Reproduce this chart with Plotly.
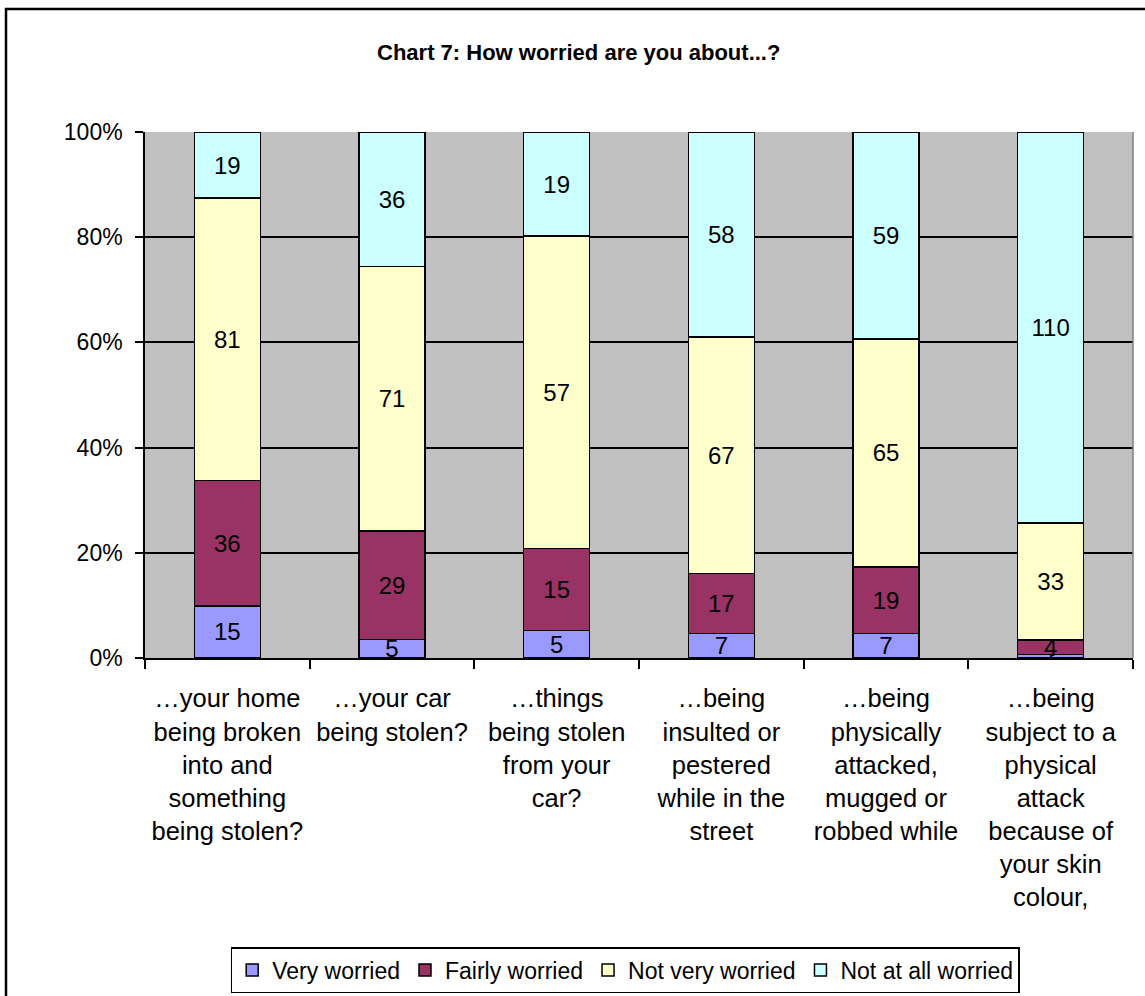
import plotly.graph_objects as go

categories = [
    "…your home<br>being broken<br>into and<br>something<br>being stolen?",
    "…your car<br>being stolen?",
    "…things<br>being stolen<br>from your<br>car?",
    "…being<br>insulted or<br>pestered<br>while in the<br>street",
    "…being<br>physically<br>attacked,<br>mugged or<br>robbed while",
    "…being<br>subject to a<br>physical<br>attack<br>because of<br>your skin<br>colour,",
]
series_names = ["Very worried", "Fairly worried", "Not very worried", "Not at all worried"]
very_worried = [15, 5, 5, 7, 7, 1]
fairly_worried = [36, 29, 15, 17, 19, 4]
not_very_worried = [81, 71, 57, 67, 65, 33]
not_at_all_worried = [19, 36, 19, 58, 59, 110]
y_tick_values = [0, 20, 40, 60, 80, 100]
y_tick_labels = ["0%", "20%", "40%", "60%", "80%", "100%"]

colors = ["#9999FF", "#993366", "#FFFFCC", "#CCFFFF"]
FONT = "Liberation Sans, Arial, sans-serif"

W, H = 1145, 996
L, R, T, B = 145, 12, 132, 338
PW, PH = W - L - R, H - T - B

fig = go.Figure()
for name, vals, col in zip(series_names,
                           [very_worried, fairly_worried, not_very_worried, not_at_all_worried],
                           colors):
    fig.add_trace(go.Bar(
        name=name, x=categories, y=vals,
        marker=dict(color=col, line=dict(color="black", width=1.5)),
        text=[str(v) for v in vals],
        textposition="inside", insidetextanchor="middle", textangle=0,
        insidetextfont=dict(color="black", size=24, family=FONT),
        hoverinfo="skip",
    ))

fig.update_layout(
    width=W, height=H,
    barmode="stack", barnorm="percent", bargap=0.6,
    uniformtext=dict(minsize=24, mode="show"),
    plot_bgcolor="#C0C0C0", paper_bgcolor="white",
    margin=dict(l=L, r=R, t=T, b=B),
    font=dict(family=FONT, size=23, color="black"),
    title=dict(text="<b>Chart 7: How worried are you about...?</b>",
               font=dict(size=22, family=FONT, color="black"),
               x=0.439, xref="paper", xanchor="center",
               y=1 - 52 / H, yref="container", yanchor="middle"),
    showlegend=True,
    legend=dict(orientation="h", x=0.486, xanchor="center",
                y=(H - 993) / H, yref="container", yanchor="bottom",
                bordercolor="black", borderwidth=1.5, bgcolor="white",
                font=dict(size=23, family=FONT), traceorder="normal",
                itemwidth=30),
    xaxis=dict(type="category", tickson="boundaries", ticks="outside", ticklen=9,
               tickcolor="black", tickwidth=1.5, showline=True, linecolor="black",
               linewidth=1.5, showgrid=False, tickfont=dict(size=25.5, family=FONT),
               ticklabelstandoff=17, automargin=False, fixedrange=True),
    yaxis=dict(range=[0, 100], tickmode="array", tickvals=y_tick_values,
               ticktext=y_tick_labels, ticks="outside",
               ticklen=8, tickcolor="black", tickwidth=1.5, showline=True,
               linecolor="black", linewidth=1.5, showgrid=True, gridcolor="black",
               gridwidth=1.5, zeroline=False, tickfont=dict(size=23, family=FONT),
               ticklabelstandoff=8, automargin=False, fixedrange=True),
)

# outer chart border and plot area right edge
fig.add_shape(type="rect", xref="paper", yref="paper",
              x0=(6 - L) / PW, x1=1.2, y0=-1.0, y1=(PH + T - 9) / PH,
              line=dict(color="black", width=2.5), fillcolor="rgba(0,0,0,0)", layer="above")
fig.add_shape(type="line", xref="paper", yref="paper", x0=1, x1=1, y0=0, y1=1,
              line=dict(color="#808080", width=1.5), layer="above")

fig.write_html(
    "out.html",
    config={"displayModeBar": False},
    post_script=(
        "document.documentElement.style.margin='0';"
        "document.documentElement.style.overflow='hidden';"
        "document.body.style.margin='0';"
        "document.body.style.overflow='hidden';"
    ),
)
